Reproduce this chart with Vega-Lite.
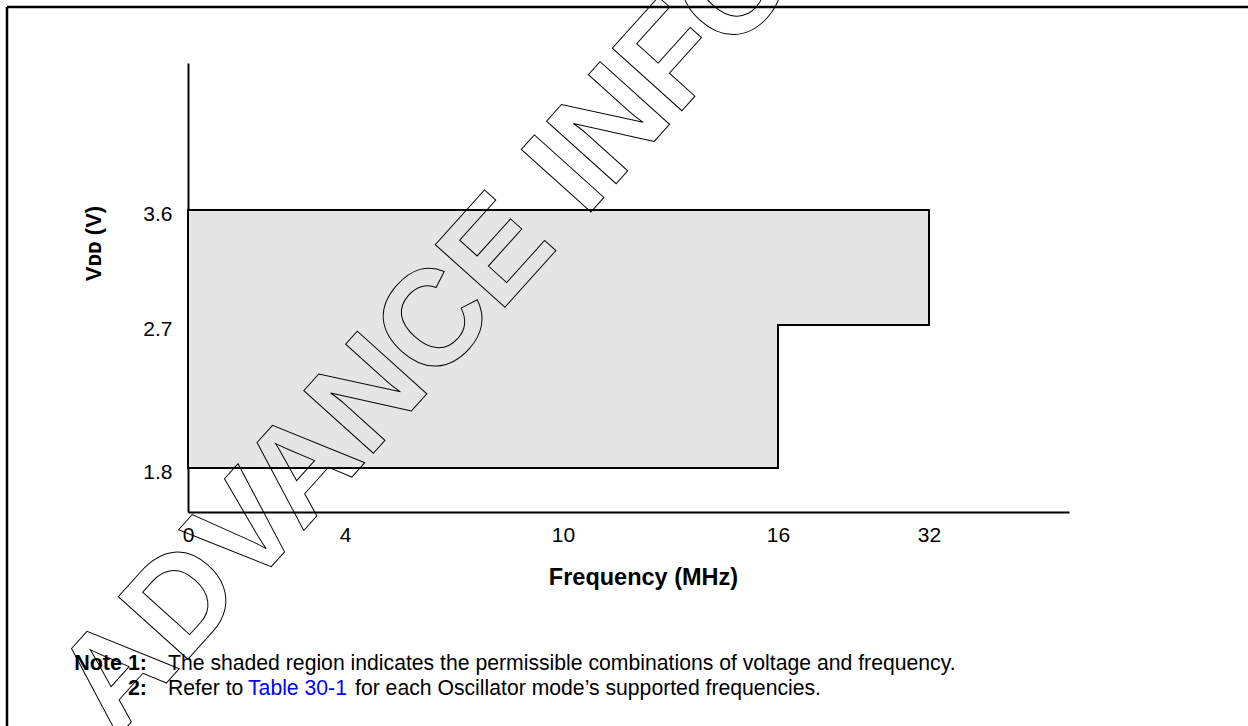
{
  "$schema": "https://vega.github.io/schema/vega-lite/v6.json",
  "width": 1241,
  "height": 719,
  "autosize": {"type": "none"},
  "padding": {"left": 7, "top": 7, "right": 0, "bottom": 0},
  "background": "white",
  "config": {
    "view": {"stroke": null},
    "font": "Liberation Sans",
    "axis": {"grid": false, "labelColor": "black", "titleColor": "black", "domainColor": "black", "domainWidth": 2}
  },
  "datasets": {
    "region": [
      {"freq": 0, "vmax": 3.6, "vmin": 1.8},
      {"freq": 16, "vmax": 3.6, "vmin": 2.7},
      {"freq": 32, "vmax": 3.6, "vmin": 2.7}
    ],
    "anchor": [{"note": 1}]
  },
  "layer": [
    {
      "data": {"name": "region"},
      "mark": {"type": "area", "orient": "vertical", "interpolate": "step-after", "fill": "#e5e5e5", "fillOpacity": 1, "stroke": "black", "strokeWidth": 2},
      "encoding": {
        "x": {
          "field": "freq", "type": "quantitative",
          "scale": {"domain": [0, 4, 10, 16, 32, 42], "range": [181, 338, 556, 771, 922, 1062], "nice": false, "zero": false},
          "axis": {
            "values": [0, 4, 10, 16, 32], "format": "d", "ticks": false, "tickSize": 0,
            "labelFontSize": 21, "labelPadding": 12, "labelFlush": false, "labelOverlap": false,
            "offset": -214,
            "title": "Frequency (MHz)", "titleFontSize": 23.5, "titleFontWeight": "bold",
            "titleX": 636, "titleY": 65, "titleBaseline": "middle", "titleAlign": "center", "titleAnchor": null
          }
        },
        "y": {
          "field": "vmax", "type": "quantitative",
          "scale": {"domain": [1.5, 1.8, 2.7, 3.6, 4.5], "range": [505, 461, 318, 203, 56], "nice": false, "zero": false},
          "axis": {
            "values": [1.8, 2.7, 3.6], "format": ".1f", "ticks": false, "tickSize": 0,
            "labelFontSize": 21, "labelPadding": 16, "labelOffset": 4, "labelFlush": false, "labelOverlap": false,
            "offset": -181,
            "title": "Vᴅᴅ (V)", "titleFontSize": 22, "titleFontWeight": "bold", "titleAngle": -90,
            "titleX": -95, "titleY": 236, "titleBaseline": "middle", "titleAlign": "center", "titleAnchor": null
          }
        },
        "y2": {"field": "vmin"}
      }
    },
    {
      "data": {"name": "anchor"},
      "mark": {"type": "rule", "color": "black", "strokeWidth": 2.5},
      "encoding": {"x": {"datum": -4.6115, "type": "quantitative"}}
    },
    {
      "data": {"name": "anchor"},
      "mark": {"type": "rule", "color": "black", "strokeWidth": 2.5},
      "encoding": {"y": {"datum": 4.8429, "type": "quantitative"}}
    },
    {
      "data": {"name": "anchor"},
      "mark": {"type": "text", "text": "Note 1:", "fontWeight": "bold", "fontSize": 21.5, "align": "right", "baseline": "alphabetic", "dx": -41, "dy": 158, "color": "black"},
      "encoding": {"x": {"datum": 0, "type": "quantitative"}, "y": {"datum": 1.5, "type": "quantitative"}}
    },
    {
      "data": {"name": "anchor"},
      "mark": {"type": "text", "text": "2:", "fontWeight": "bold", "fontSize": 21.5, "align": "right", "baseline": "alphabetic", "dx": -41, "dy": 183, "color": "black"},
      "encoding": {"x": {"datum": 0, "type": "quantitative"}, "y": {"datum": 1.5, "type": "quantitative"}}
    },
    {
      "data": {"name": "anchor"},
      "mark": {"type": "text", "text": "The shaded region indicates the permissible combinations of voltage and frequency.", "fontSize": 21.2, "align": "left", "baseline": "alphabetic", "dx": -20, "dy": 158, "color": "black"},
      "encoding": {"x": {"datum": 0, "type": "quantitative"}, "y": {"datum": 1.5, "type": "quantitative"}}
    },
    {
      "data": {"name": "anchor"},
      "mark": {"type": "text", "text": "Refer to", "fontSize": 21.2, "align": "left", "baseline": "alphabetic", "dx": -20, "dy": 183, "color": "black"},
      "encoding": {"x": {"datum": 0, "type": "quantitative"}, "y": {"datum": 1.5, "type": "quantitative"}}
    },
    {
      "data": {"name": "anchor"},
      "mark": {"type": "text", "text": "Table 30-1", "fontSize": 21.2, "align": "left", "baseline": "alphabetic", "dx": 60, "dy": 183, "color": "#0000ff"},
      "encoding": {"x": {"datum": 0, "type": "quantitative"}, "y": {"datum": 1.5, "type": "quantitative"}}
    },
    {
      "data": {"name": "anchor"},
      "mark": {"type": "text", "text": "for each Oscillator mode’s supported frequencies.", "fontSize": 21.2, "align": "left", "baseline": "alphabetic", "dx": 167, "dy": 183, "color": "black"},
      "encoding": {"x": {"datum": 0, "type": "quantitative"}, "y": {"datum": 1.5, "type": "quantitative"}}
    },
    {
      "data": {"name": "anchor"},
      "mark": {"type": "text", "text": "ADVANCE INFORMATION", "font": "Liberation Sans", "fontWeight": "bold", "fontSize": 136, "angle": -48, "align": "center", "baseline": "alphabetic", "fill": "white", "fillOpacity": 0, "stroke": "black", "strokeWidth": 1},
      "encoding": {"x": {"datum": 12.93, "type": "quantitative"}, "y": {"datum": 4.114, "type": "quantitative"}}
    }
  ]
}
